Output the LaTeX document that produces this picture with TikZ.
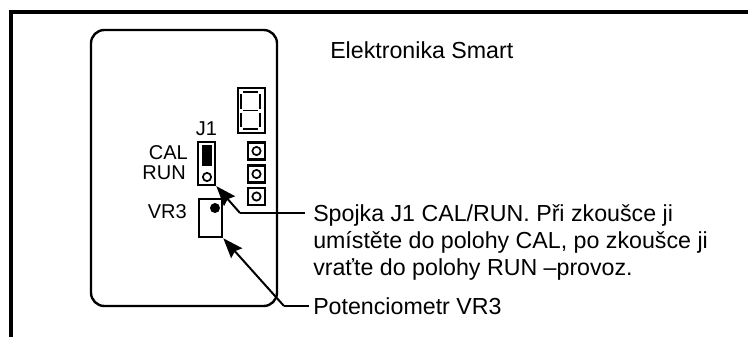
\documentclass[tikz,border=0pt]{standalone}
\usepackage{fontspec}
\setmainfont{Liberation Sans}
\usetikzlibrary{arrows.meta}
\tikzset{
    label text/.style={inner sep=0pt, font=\fontsize{17.4pt}{20.4pt}\selectfont},
    small text/.style={inner sep=0pt, font=\fontsize{15pt}{18pt}\selectfont},
    part/.style={draw, line width=1.9pt, inner sep=0pt},
    pad/.style={part, minimum width=13pt, minimum height=12.5pt},
    pad hole/.style={circle, draw, line width=1.3pt, inner sep=0pt, minimum size=6.2pt},
    segment/.style={line width=1.3pt},
    leader/.style={line width=1.5pt},
    pointer/.style={line width=1.5pt, -{Stealth[length=15pt, width=11pt, inset=2pt]}},
}
\begin{document}
\begin{tikzpicture}[x=0.75pt, y=-0.75pt]
    \useasboundingbox (0, 0) rectangle (748, 337);

    \draw[line width=2.6pt] (11, 337) -- (11, 12) -- (748, 12);
    \draw[line width=1.8pt, rounded corners=10pt] (91, 30) rectangle (277, 306);

    % display
    \node[part, minimum width=20.25pt, minimum height=33.75pt] (display) at (251.5, 110.5) {};
    \draw[segment] (243, 92) -- (258, 92);
    \draw[segment] (243, 110.5) -- (258, 110.5);
    \draw[segment] (243, 129) -- (258, 129);
    \draw[segment] (241, 94) -- (241, 108.5);
    \draw[segment] (260, 94) -- (260, 108.5);
    \draw[segment] (241, 112.5) -- (241, 127);
    \draw[segment] (260, 112.5) -- (260, 127);

    % pads
    \node[pad] (pad1) at (256.5, 151) {};
    \node[pad] (pad2) at (256.5, 174) {};
    \node[pad] (pad3) at (256.5, 196.5) {};
    \node[pad hole] (hole1) at (pad1) {};
    \node[pad hole] (hole2) at (pad2) {};
    \node[pad hole] (hole3) at (pad3) {};

    % jumper
    \node[part, minimum width=12.75pt, minimum height=32pt] (jumper) at (206.5, 163.5) {};
    \node[fill, inner sep=0pt, minimum width=7.5pt, minimum height=15.5pt] (cap) at (207, 155.5) {};
    \node[pad hole] (pin) at (207, 177) {};

    % trimmer
    \node[part, minimum width=17.25pt, minimum height=28.5pt] (trimmer) at (210.5, 218) {};
    \node[circle, fill, inner sep=0pt, minimum size=7.5pt] (wiper) at (215, 208) {};

    \node[small text, anchor=base] (j1) at (206.5, 135) {J1};
    \node[small text, anchor=base east] (cal) at (188, 159) {CAL};
    \node[small text, anchor=base east] (run) at (186, 179) {RUN};
    \node[small text, anchor=base east] (vr3) at (187, 218) {VR3};
    \node[label text, anchor=base west] (title) at (330, 58) {Elektronika Smart};
    \node[label text, anchor=north west, align=left] (spojka) at (313, 204)
        {Spojka J1 CAL/RUN. Při zkoušce ji\\umístěte do polohy CAL, po zkoušce ji\\vraťte do polohy RUN –provoz.};
    \node[label text, anchor=west] (pot) at (313, 306) {Potenciometr VR3};

    \coordinate (bend1) at (240, 213);
    \coordinate (bend2) at (284, 306);
    \coordinate (end1) at (305, 213);
    \coordinate (end2) at (309, 306);

    \draw[pointer] (bend1) -- (jumper.south east);
    \draw[leader] (bend1) -- (end1);
    \draw[pointer] (bend2) -- (trimmer.south east);
    \draw[leader] (bend2) -- (end2);
\end{tikzpicture}
\end{document}
